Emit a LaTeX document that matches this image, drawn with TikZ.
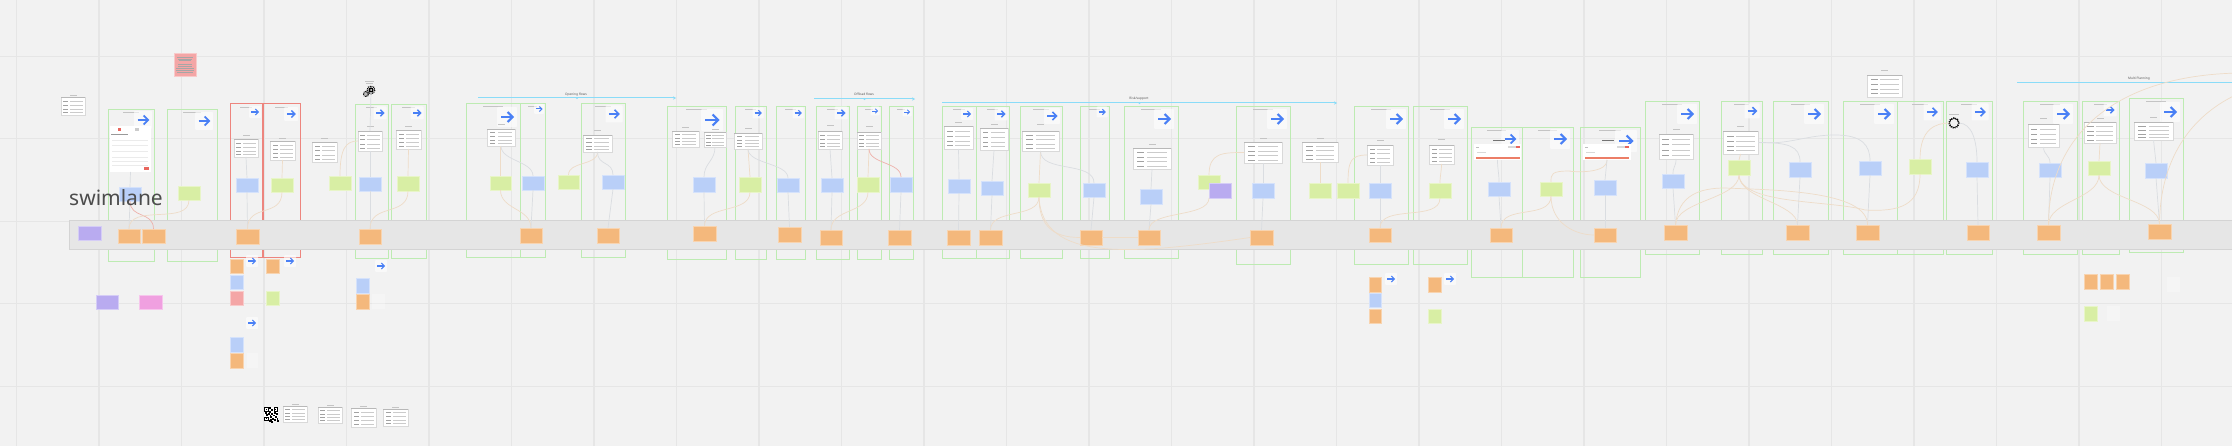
\documentclass[tikz,border=0pt]{standalone}
\usepackage{fontspec}
\setmainfont{Noto Sans}
\usetikzlibrary{arrows.meta}
\definecolor{bgc}{HTML}{F2F2F2}
\definecolor{gridc}{HTML}{E6E6E6}
\definecolor{bandf}{HTML}{E6E6E6}
\definecolor{bandd}{HTML}{D4D4D4}
\definecolor{sblue}{HTML}{B9CFF8}
\definecolor{sgreen}{HTML}{D8EEA4}
\definecolor{sorange}{HTML}{F4B87C}
\definecolor{spurple}{HTML}{B9ABF0}
\definecolor{spink}{HTML}{F0A0E0}
\definecolor{sred}{HTML}{F4A6A6}
\definecolor{frg}{HTML}{BDEBB2}
\definecolor{frr}{HTML}{E8665E}
\definecolor{arrowb}{HTML}{4A80F5}
\definecolor{flowc}{HTML}{8ADCF8}
\definecolor{cgray}{HTML}{DADDE1}
\definecolor{corange}{HTML}{EEDCC8}
\definecolor{cred}{HTML}{EEB1AB}
\definecolor{lbl}{HTML}{C4C4C4}
\definecolor{rowc}{HTML}{CBCBCB}
\tikzset{
 base/.style={rectangle,inner sep=0pt,outer sep=0pt},
 sb/.style={base,fill=sblue,draw=sblue!60!white,line width=.4pt},
 sg/.style={base,fill=sgreen,draw=sgreen!60!white,line width=.4pt},
 so/.style={base,fill=sorange,draw=sorange!60!white,line width=.4pt},
 sp/.style={base,fill=spurple,draw=spurple!60!white,line width=.4pt},
 sk/.style={base,fill=spink,draw=spink!60!white,line width=.4pt},
 sr/.style={base,fill=sred,draw=sred!60!white,line width=.4pt},
 faint/.style={base,fill=white,fill opacity=.25},
 frmg/.style={base,draw=frg,line width=.9pt},
 frmr/.style={base,draw=frr!80!white,line width=1pt},
 mockbox/.style={base,fill=white,draw=black!15,line width=.5pt},
 cardbox/.style={base,fill=white,fill opacity=.6,rounded corners=1pt},
 cg/.style={cgray,line width=.7pt},
 co/.style={corange,line width=.7pt},
 cr/.style={cred,line width=.7pt},
 flowl/.style={flowc,line width=1pt,-{Stealth[length=3pt,width=3.4pt]}},
 flowdot/.style={circle,fill=flowc,inner sep=0pt,minimum size=2.2pt},
 linelab/.style={inner sep=0pt,text=black!65,font=\fontsize{3.2}{3.2}\selectfont},
}
% rectangle node from corners
\newcommand\nd[6]{\node[#1,minimum width={(#5-#3)*1pt},minimum height={(#6-#4)*1pt}] (#2) at ({(#3+#5)/2},{(#4+#6)/2}) {};}
% frame with its title bar
\newcommand\frm[6][frmg]{\nd{#1}{#2}{#3}{#4}{#5}{#6}\fill[lbl] ({(#3+#5)/2-.18*(#5-#3)},{#4+2.6}) rectangle +({.36*(#5-#3)},.8);}
% screen mock-up: name,x1,y1,x2,y2,label y
\newcommand\mk[6]{\nd{mockbox}{#1}{#2}{#3}{#4}{#5}
 \fill[black!28] (#2,#3) rectangle ({#4},{#3+.5});
 \foreach \r in {.2,.42,.64,.84}{%
  \fill[rowc!80!black] ({#2+.1*(#4-#2)},{#3+\r*(#5-#3)}) rectangle +({.2*(#4-#2)},.5);
  \fill[rowc] ({#2+.38*(#4-#2)},{#3+\r*(#5-#3)}) rectangle +({.52*(#4-#2)},.8);}
 \fill[lbl] ({(#2+#4)/2-3.5},{#6-.5}) rectangle +(7,.9);}
% arrow card: name,cx,cy,size
\newcommand\cd[4]{\node[cardbox,minimum width={#4*1pt},minimum height={#4*1pt}] (#1) at (#2,#3) {};
 \draw[arrowb,line width={.1*#4*1pt}] ({#2-.3*#4},#3) -- ({#2+.27*#4},#3);
 \draw[arrowb,line width={.1*#4*1pt},line join=miter] ({#2+.03*#4},{#3-.25*#4}) -- ({#2+.28*#4},#3) -- ({#2+.03*#4},{#3+.25*#4});}
\newcommand\lnk[3]{\draw[#1] (#2) -- (#3);}
\newcommand\crv[4]{\draw[#1] (#2) .. controls +(0,#4) and +(0,-#4) .. (#3);}
\begin{document}
\begin{tikzpicture}[x=1pt,y=-1pt]
\useasboundingbox (0,0) rectangle (2232,446);
\fill[bgc] (0,0) rectangle (2232,446);
% grid
\foreach \k in {0,...,26}{\draw[gridc,line width=1.2pt] ({16.5+82.5*\k},0) -- ({16.5+82.5*\k},446);}
\foreach \k in {0,...,4}{\draw[gridc,line width=1.1pt] (0,{56.5+82.4*\k}) -- (2232,{56.5+82.4*\k});}
% frames
\frm{f1}{108}{109}{154}{261}
\frm{f2}{167}{109}{217}{261}
\frm[frmr]{f3}{230}{104}{262}{258}
\frm[frmr]{f4}{263}{104}{300}{258}
\frm{f5}{355}{104}{388}{258}
\frm{f6}{391}{104}{426}{258}
\frm{f7}{466}{103}{520}{257}
\frm{f8}{520}{103}{545}{257}
\frm{f9}{581}{103}{625}{257}
\frm{f10}{667}{106}{726}{259}
\frm{f11}{735}{106}{766}{259}
\frm{f12}{776}{106}{805}{259}
\frm{f13}{816}{106}{849}{259}
\frm{f14}{857}{106}{881}{259}
\frm{f15}{889}{106}{913}{259}
\frm{f16}{942}{106}{976}{258}
\frm{f17}{976}{106}{1009}{258}
\frm{f18}{1020}{106}{1062}{258}
\frm{f19}{1080}{106}{1109}{258}
\frm{f20}{1124}{106}{1178}{258}
\frm{f21}{1236}{106}{1290}{264}
\frm{f22}{1354}{106}{1408}{264}
\frm{f23}{1413}{106}{1467}{264}
\frm{f24}{1471}{127}{1522}{277}
\frm{f25}{1522}{127}{1573}{277}
\frm{f26}{1580}{127}{1640}{277}
\frm{f27}{1645}{101}{1699}{254}
\frm{f28}{1721}{101}{1762}{254}
\frm{f29}{1773}{101}{1828}{254}
\frm{f30}{1843}{101}{1897}{254}
\frm{f31}{1897}{101}{1943}{254}
\frm{f32}{1946}{101}{1992}{254}
\frm{f33}{2023}{101}{2077}{254}
\frm{f34}{2082}{101}{2119}{254}
\frm{f35}{2129}{98}{2183}{252}
% swimlane band
\nd{base,fill=bandf,draw=bandd,line width=1pt}{band}{69}{221}{2240}{250}
% flow lines
\coordinate (la) at (478,98); \coordinate (lb) at (676,98);
\coordinate (lc) at (814,99); \coordinate (ld) at (915,99);
\coordinate (le) at (942,103); \coordinate (lf) at (1337,103);
\coordinate (lg) at (2017,83); \coordinate (lh) at (2240,83);
\draw[flowl] (la) -- node[flowdot,pos=.5] (dota) {} (lb);
\draw[flowl] (lc) -- node[flowdot,pos=.5] (dotb) {} (ld);
\draw[flowl] (le) -- node[flowdot,pos=.5] (dotc) {} (lf);
\draw[flowc,line width=1pt] (lg) -- (lh);
\node[linelab] (ta) at (576,94.5) {Opening flows};
\node[linelab] (tb) at (864,94.5) {Offload flows};
\node[linelab] (tc) at (1139,99) {Risk/support};
\node[linelab] (td) at (2139,79) {Multi Planning};
% arrow cards
\cd{c1}{143}{120}{18}\cd{c2}{204}{121}{18}\cd{c3}{255}{112}{12}\cd{c4}{291}{114}{14}
\cd{c5}{380}{113}{13}\cd{c6}{417}{113}{13}\cd{c7}{507}{117}{20}\cd{c8}{539}{109}{10}
\cd{c9}{614}{114}{17}\cd{c10}{712}{120}{22}\cd{c11}{758}{113}{11}\cd{c12}{798}{113}{11}
\cd{c13}{841}{113}{13}\cd{c14}{875}{111}{9}\cd{c15}{907}{112}{9}\cd{c16}{967}{114}{12}
\cd{c17}{1001}{114}{13}\cd{c18}{1052}{116}{16}\cd{c19}{1102}{112}{11}\cd{c20}{1164}{119}{20}
\cd{c21}{1277}{119}{20}\cd{c22}{1396}{119}{20}\cd{c23}{1454}{119}{20}\cd{c24}{1510}{139}{18}
\cd{c25}{1560}{139}{20}\cd{c26}{1626}{141}{22}\cd{c27}{1687}{114}{20}\cd{c28}{1752}{111}{15}
\cd{c29}{1814}{114}{20}\cd{c30}{1884}{114}{20}\cd{c31}{1932}{112}{17}\cd{c32}{1980}{112}{17}
\cd{c33}{2063}{114}{20}\cd{c34}{2110}{110}{13}\cd{c35}{2170}{112}{20}
\cd{c36}{252}{261}{12}\cd{c37}{290}{261}{12}\cd{c38}{252}{323}{12}\cd{c39}{381}{266}{12}
\cd{c40}{1391}{279}{12}\cd{c41}{1450}{279}{12}
% red note
\nd{sr}{note}{174}{53}{196}{76}
\foreach \a/\b/\c in {177/193/57,178/192/59,179/191/60,178/192/64,178/192/66,176/194/68,176/194/70,177/193/72}{\fill[black!35] (\a,\c) rectangle (\b,{\c+.5});}
% mock-ups
\mk{m0}{61}{97}{85}{115}{96}
\nd{mockbox,draw=none}{m1}{110}{126}{151}{172}
\fill[frr] (117.5,128) rectangle (121,131.5);
\fill[black!20] (135,128.5) rectangle (138.5,131.5);
\fill[black!40] (111,134.5) rectangle (128,135.3);
\foreach \r in {140,145,151,157,161,165}{\fill[black!8] (112,\r) rectangle (148,{\r+1.5});}
\fill[frr] (144,167.5) rectangle (149,170);
\mk{m2}{234}{139}{258}{157}{136}
\mk{m3}{270}{141}{295}{160}{138.5}
\mk{m4}{312}{142}{337}{162}{139}
\mk{m5}{358}{131}{382}{151}{127}
\mk{m6}{396}{130}{421}{149}{127}
\mk{m7}{487}{129}{515}{146}{125}
\mk{m8}{583}{135}{612}{152}{131}
\mk{m9}{672}{131}{699}{147}{128}
\mk{m10}{704}{132}{726}{147}{130}
\mk{m11}{734}{133}{762}{149}{129}
\mk{m12}{818}{131}{842}{149}{126}
\mk{m13}{857}{132}{881}{149}{127}
\mk{m14}{944}{126}{973}{149}{123}
\mk{m15}{980}{128}{1008}{150}{125}
\mk{m16}{1022}{131}{1059}{151}{125}
\mk{m17}{1133}{148}{1171}{169}{145}
\mk{m18}{1244}{142}{1282}{163}{139}
\mk{m19}{1302}{142}{1338}{162}{139}
\mk{m20}{1367}{145}{1393}{165}{141}
\mk{m21}{1429}{145}{1454}{164}{140}
\nd{mockbox,draw=none}{m22}{1474}{144}{1521}{160}
\nd{mockbox,draw=none}{m23}{1583}{144}{1631}{160}
\foreach \xx in {1474,1583}{
 \fill[black!55] ({\xx+19},139.8) rectangle ({\xx+31},141);
 \fill[black!25] ({\xx+2},147) rectangle ({\xx+5},148);
 \fill[black!15] ({\xx+34},146.5) rectangle ({\xx+42},148);
 \fill[frr] ({\xx+42},146.5) rectangle ({\xx+46},148);
 \fill[black!15] ({\xx+3},152) rectangle ({\xx+12},153);
 \fill[frr!70!sorange] ({\xx+2},157) rectangle ({\xx+46},159.3);}
\mk{m24}{1659}{134}{1693}{159}{130}
\mk{m25}{1723}{131}{1758}{154}{127}
\mk{m26}{1867}{75}{1902}{97}{71}
\mk{m27}{2028}{124}{2059}{147}{119}
\mk{m28}{2084}{122}{2116}{143}{119}
\mk{m29}{2134}{122}{2173}{140}{118}
\mk{m30}{283}{406}{307}{422}{404}
\mk{m31}{318}{407}{342}{423}{405}
\mk{m32}{351}{408}{376}{427}{406}
\mk{m33}{383}{409}{408}{426}{407}
% QR code
\nd{base,fill=white}{qr}{264}{407}{278}{421}
\foreach \a/\b in {264/407,273.5/407,264/416.5}{\fill[black] (\a,\b) rectangle +(4.5,4.5);\fill[white] ({\a+1},{\b+1}) rectangle +(2.5,2.5);\fill[black] ({\a+1.7},{\b+1.7}) rectangle +(1.1,1.1);}
\foreach \a/\b in {269/407,271/409,269/411,265/412,268/413,271/413,274/412,276/413,270/416,272/418,275/416,270/419,274/419,276.5/418,277/420,269.5/414.5,273/414.5,266/414,271/421,269/420}{\fill[black] (\a,\b) rectangle +(1.5,1.5);}
% gears
\node[base,circle,fill=black,minimum size=5pt] (gA) at (371,90) {};
\draw[black,line width=1.3pt,dash pattern=on .9pt off .9pt] (gA.center) circle (3.8);
\fill[white] (gA.center) circle (1);
\node[base,circle,fill=black,minimum size=3.5pt] (gB) at (366,94) {};
\draw[black,line width=1pt,dash pattern=on .7pt off .7pt] (gB.center) circle (2.6);
\fill[white] (gB.center) circle (1.1);
\fill[lbl] (364.5,81.5) rectangle (374,82.3);\fill[lbl] (365.5,83.5) rectangle (373,84.3);
\node[base,circle,fill=bgc,draw=black,line width=.6pt,minimum size=9pt] (gC) at (1954,123) {};
\draw[black,line width=1.2pt,dash pattern=on 1pt off 1.1pt] (gC.center) circle (5.2);
\fill[lbl] (1949,114) rectangle (1959,114.8);
% stickies: first part
\nd{sb}{b1}{119}{187}{141}{201}\nd{sg}{g1}{178}{186}{200}{200}\nd{sp}{p1}{78}{226}{101}{240}
\nd{so}{o1}{118}{229}{140}{243}\nd{so}{o2}{142}{229}{165}{243}
\nd{sb}{b2}{236}{178}{258}{192}\nd{sg}{g2}{271}{178}{293}{192}\nd{so}{o3}{236}{229}{259}{244}
\nd{sg}{g3}{329}{176}{351}{190}\nd{sb}{b3}{359}{177}{381}{191}\nd{so}{o4}{359}{229}{381}{244}
\nd{sg}{g4}{397}{176}{419}{191}
\nd{so}{x1}{230}{259}{243}{273}\nd{sb}{x2}{230}{275}{243}{289}\nd{sr}{x3}{230}{291}{243}{305}
\nd{so}{x4}{266}{259}{279}{273}\nd{sg}{x5}{266}{291}{279}{305}
\nd{sp}{p3}{96}{295}{118}{309}\nd{sk}{k1}{139}{295}{162}{309}
\nd{sb}{x6}{230}{337}{243}{352}\nd{so}{x7}{230}{353}{243}{368}\nd{faint}{x8}{247}{353}{258}{368}
\nd{sb}{x9}{356}{278}{369}{293}\nd{so}{x10}{356}{294}{369}{309}\nd{faint}{x11}{372}{294}{385}{309}
% flow 1
\nd{sg}{g5}{490}{176}{511}{190}\nd{sb}{b4}{522}{176}{544}{190}\nd{so}{o5}{520}{228}{542}{243}
\nd{sg}{g6}{558}{175}{579}{189}\nd{sb}{b5}{602}{175}{624}{189}\nd{so}{o6}{597}{228}{619}{243}
% flow 2
\nd{sb}{b6}{693}{177}{715}{192}\nd{sg}{g7}{739}{177}{761}{192}\nd{sb}{b7}{777}{178}{799}{192}
\nd{sb}{b8}{821}{178}{843}{192}\nd{sg}{g8}{857}{177}{879}{192}\nd{sb}{b9}{890}{177}{912}{192}
\nd{so}{o7}{693}{226}{716}{241}\nd{so}{o8}{778}{227}{801}{242}\nd{so}{o9}{820}{230}{842}{245}\nd{so}{o10}{888}{230}{911}{245}
% flow 3
\nd{sb}{b10}{948}{179}{970}{193}\nd{sb}{b11}{981}{181}{1003}{195}\nd{sg}{g9}{1028}{183}{1050}{197}
\nd{sb}{b12}{1083}{183}{1105}{197}\nd{sb}{b13}{1140}{189}{1162}{204}\nd{sg}{g10}{1198}{175}{1220}{189}
\nd{sp}{p2}{1209}{183}{1231}{198}\nd{sb}{b14}{1252}{183}{1274}{198}\nd{sg}{g11}{1309}{183}{1331}{198}
\nd{sg}{g12}{1337}{183}{1359}{198}\nd{sb}{b15}{1369}{183}{1391}{198}\nd{sg}{g13}{1429}{183}{1451}{198}
\nd{so}{o11}{947}{230}{970}{245}\nd{so}{o12}{979}{230}{1002}{245}\nd{so}{o13}{1080}{230}{1102}{245}
\nd{so}{o14}{1138}{230}{1160}{245}\nd{so}{o15}{1250}{230}{1273}{245}\nd{so}{o16}{1369}{228}{1391}{242}
% flow 4
\nd{sb}{b16}{1488}{182}{1510}{196}\nd{sg}{g14}{1540}{182}{1562}{196}\nd{sb}{b17}{1594}{180}{1616}{195}
\nd{so}{o17}{1490}{228}{1512}{242}\nd{so}{o18}{1594}{228}{1616}{242}
% flow 5
\nd{sb}{b18}{1662}{174}{1684}{188}\nd{so}{o19}{1664}{225}{1687}{240}\nd{sg}{g15}{1728}{160}{1750}{175}
\nd{sb}{b19}{1789}{162}{1811}{177}\nd{so}{o20}{1786}{225}{1809}{240}\nd{sb}{b20}{1859}{161}{1881}{175}
\nd{so}{o21}{1856}{225}{1879}{240}\nd{sg}{g16}{1909}{159}{1931}{174}\nd{sb}{b21}{1966}{162}{1988}{177}
\nd{so}{o22}{1967}{225}{1989}{240}
% flow 6
\nd{sb}{b22}{2039}{163}{2061}{177}\nd{so}{o23}{2037}{225}{2060}{240}\nd{sg}{g17}{2088}{161}{2110}{175}
\nd{sb}{b23}{2145}{163}{2167}{178}\nd{so}{o24}{2148}{224}{2171}{239}
% below the band
\nd{so}{y1}{1369}{277}{1381}{292}\nd{sb}{y2}{1369}{293}{1381}{307}\nd{so}{y3}{1369}{309}{1381}{323}
\nd{so}{y4}{1428}{277}{1441}{292}\nd{sg}{y5}{1428}{309}{1441}{323}
\nd{so}{y6}{2084}{274}{2097}{289}\nd{so}{y7}{2100}{274}{2113}{289}\nd{so}{y8}{2116}{274}{2129}{289}
\nd{sg}{y9}{2084}{306}{2097}{321}\nd{faint}{y10}{2107}{306}{2120}{321}\nd{faint}{y11}{2167}{277}{2180}{292}
% connectors
\lnk{cg}{m1.south}{b1.north}\lnk{cg}{b1.south}{o1.north}
\crv{cr}{b1.south}{o2.north}{18}
\crv{co}{g1.south}{o1.north}{26}
\lnk{cg}{m2.south}{b2.north}\lnk{cg}{b2.south}{o3.north}\lnk{co}{m3.south}{g2.north}
\crv{co}{g2.south}{o3.north}{26}
\draw[co] (g3.north) .. controls +(0,-28) and +(-12,0) .. (m5.west);
\lnk{cg}{gA.south}{m5.north}\lnk{cg}{m5.south}{b3.north}\lnk{cg}{b3.south}{o4.north}
\lnk{co}{m6.south}{g4.north}\crv{co}{g4.south}{o4.north}{26}
\lnk{co}{m7.south -| g5.north}{g5.north}
\crv{cg}{m7.south}{b4.north}{15}
\crv{co}{g5.south}{o5.north}{20}\lnk{cg}{b4.south}{o5.north}
\crv{co}{m8.south}{g6.north}{14}\crv{cg}{m8.south}{b5.north}{14}\lnk{cg}{b5.south}{o6.north}
\crv{cg}{m10.south}{b6.north}{14}\lnk{cg}{b6.south}{o7.north}
\lnk{co}{m11.south}{g7.north}\crv{cg}{m11.south}{b7.north}{15}
\crv{co}{g7.south}{o7.north}{22}\lnk{cg}{b7.south}{o8.north}
\lnk{cg}{m12.south}{b8.north}\lnk{cg}{b8.south}{o9.north}
\lnk{co}{m13.south}{g8.north}\crv{cr}{m13.south}{b9.north}{15}
\crv{co}{g8.south}{o9.north}{22}\lnk{cg}{b9.south}{o10.north}
\lnk{cg}{m14.south}{b10.north}\lnk{cg}{b10.south}{o11.north}
\lnk{cg}{m15.south}{b11.north}\lnk{cg}{b11.south}{o12.north}
\lnk{co}{m16.south}{g9.north}\crv{cg}{m16.south}{b12.north}{22}
\crv{co}{g9.south}{o12.north}{22}
\draw[co] (g9.south) .. controls +(0,28) and +(-28,0) .. (o13.west);
\lnk{co}{o13.east}{o14.west}
\draw[co] (g9.south) .. controls (1042,262) and (1130,255) .. (o15.west);
\lnk{cg}{b12.south}{o13.north}
\lnk{cg}{m17.south}{b13.north}\lnk{cg}{b13.south}{o14.north}
\crv{co}{p2.south west}{o14.north}{20}
\draw[co] (m18.west) .. controls +(-22,0) and +(0,-22) .. (g10.north);
\lnk{cg}{m18.south}{b14.north}\lnk{cg}{b14.south}{o15.north}
\lnk{co}{m19.south}{g11.north}
\draw[co] (m20.west) .. controls +(-16,0) and +(0,-22) .. (g12.north);
\lnk{cg}{m20.south}{b15.north}\lnk{cg}{b15.south}{o16.north}
\crv{co}{m21.south}{g13.north}{8}\crv{co}{g13.south}{o16.north}{24}
\crv{cg}{m22.south}{b16.north}{10}\lnk{cg}{b16.south}{o17.north}
\crv{co}{g14.south}{o17.north}{24}
\draw[co] (g14.south) .. controls +(0,28) and +(-18,0) .. (o18.west);
\draw[co] (m23.south) .. controls +(0,16) and +(-6,0) .. (1570,171) .. controls (1551,171) and (1551,174) .. (g14.north);
\lnk{cg}{m23.south}{b17.north}\lnk{cg}{b17.south}{o18.north}
\crv{cg}{m24.south}{b18.north}{8}\lnk{cg}{b18.south}{o19.north}
\lnk{co}{m25.south}{g15.north}
\crv{co}{g15.south}{o19.north}{24}
\draw[co] (g15.south) .. controls +(0,24) and +(0,-22) .. (o20.north);
\draw[cg] (m25.east) .. controls +(30,0) and +(0,-16) .. (b19.north);
\draw[cg] (m25.east) .. controls (1790,145) and (1805,135) .. (1835,135) .. controls (1862,135) and (1870,145) .. (b20.north);
\lnk{cg}{b19.south}{o20.north}\lnk{cg}{b20.south}{o21.north}
\draw[co] (o19.north) .. controls (1678,195) and (1700,188) .. (1725,188) .. controls (1770,190) and (1868,190) .. (o21.north);
\draw[co] (g15.south) .. controls (1741,205) and (1830,200) .. (1865,210) .. controls (1900,212) and (1920,205) .. (g16.south);
\draw[co] (g16.north) .. controls +(0,-30) and +(-14,0) .. (gC.west);
\draw[cg] (gC.east) .. controls +(14,0) and +(0,-20) .. (b21.north);
\lnk{cg}{b21.south}{o22.north}
\crv{cg}{m27.south}{b22.north}{8}\lnk{cg}{b22.south}{o23.north}
\lnk{co}{m28.south}{g17.north}
\crv{co}{g17.south}{o23.north}{24}\crv{co}{g17.south}{o24.north}{24}
\lnk{cg}{m29.south}{b23.north}\lnk{cg}{b23.south}{o24.north}
\coordinate (e1) at (2240,73); \coordinate (e2) at (2240,93);
\draw[co] (o23.north) .. controls (2048,140) and (2110,75) .. (e1);
\draw[co] (o24.north) .. controls (2160,160) and (2190,115) .. (e2);
% title
\node[inner sep=0pt,anchor=base west,text=black!70,font=\fontsize{21}{21}\selectfont] (swim) at (69,205.5) {swimlane};
\end{tikzpicture}
\end{document}
